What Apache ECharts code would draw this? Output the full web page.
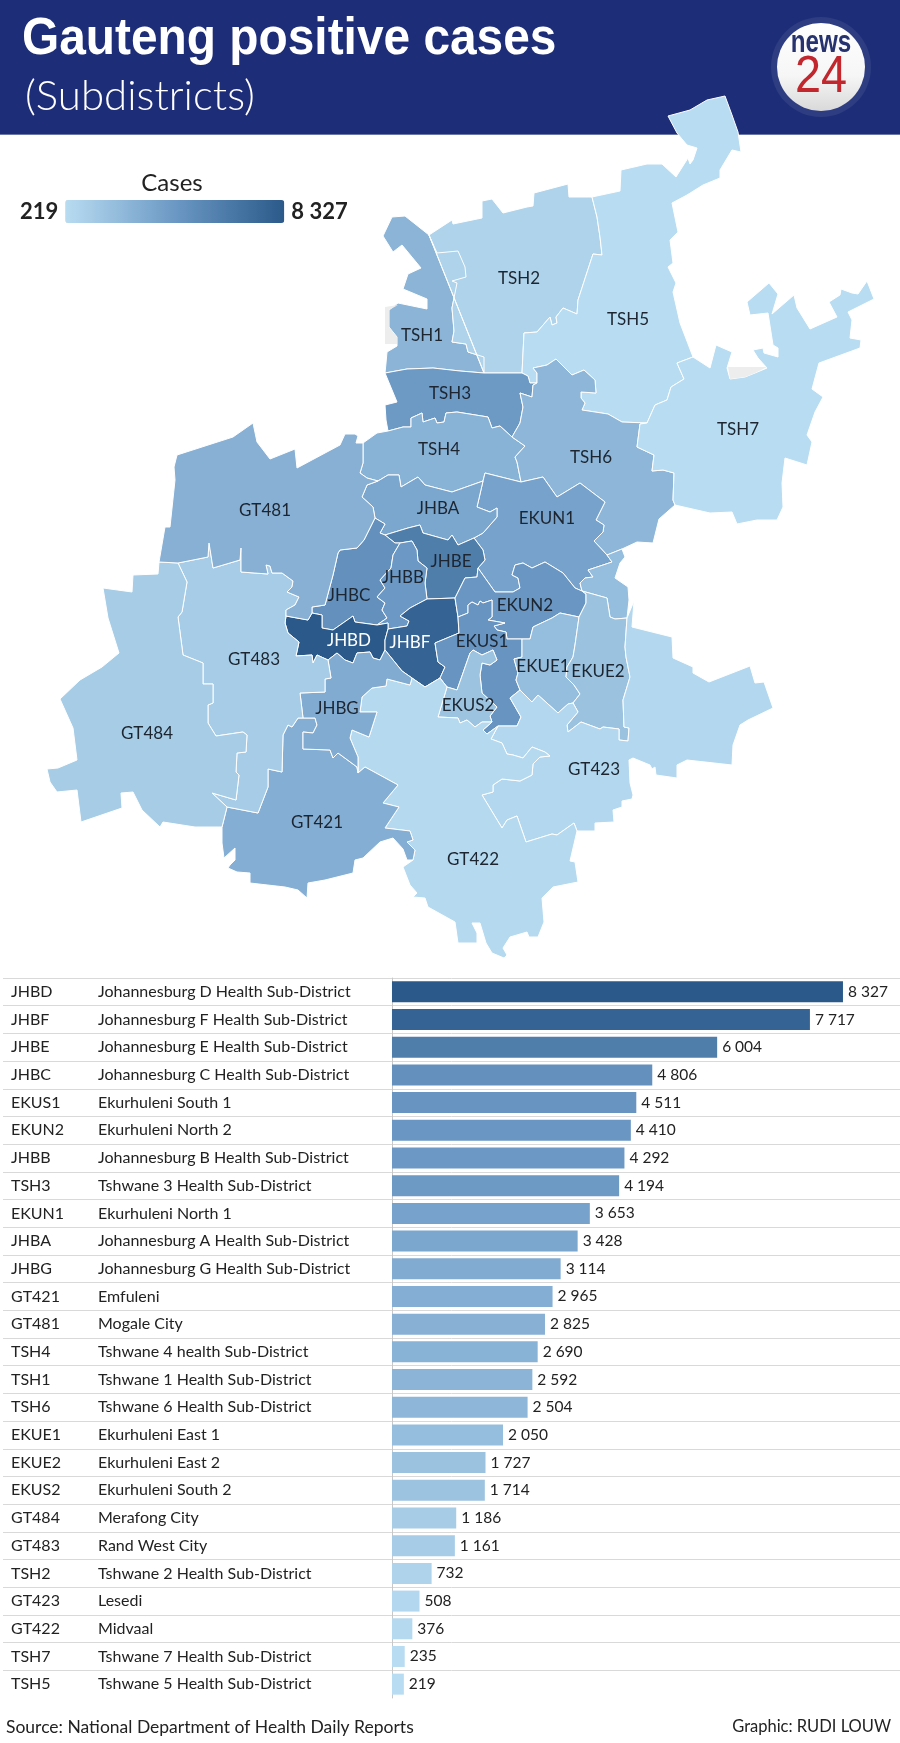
<!DOCTYPE html>
<html>
<head>
<meta charset="utf-8">
<title>Gauteng positive cases</title>
<script src="https://cdn.jsdelivr.net/npm/echarts@6/dist/echarts.min.js"></script>
<style>
  html, body { margin: 0; padding: 0; background: #fff; }
  #chart { width: 900px; height: 1743px; }
</style>
</head>
<body>
<div id="chart"></div>
<script>
const districtCodes = ['JHBD', 'JHBF', 'JHBE', 'JHBC', 'EKUS1', 'EKUN2', 'JHBB', 'TSH3', 'EKUN1', 'JHBA', 'JHBG', 'GT421', 'GT481', 'TSH4', 'TSH1', 'TSH6', 'EKUE1', 'EKUE2', 'EKUS2', 'GT484', 'GT483', 'TSH2', 'GT423', 'GT422', 'TSH7', 'TSH5']
const districtNames = [
  'Johannesburg D Health Sub-District', 'Johannesburg F Health Sub-District', 'Johannesburg E Health Sub-District',
  'Johannesburg C Health Sub-District', 'Ekurhuleni South 1', 'Ekurhuleni North 2',
  'Johannesburg B Health Sub-District', 'Tshwane 3 Health Sub-District', 'Ekurhuleni North 1',
  'Johannesburg A Health Sub-District', 'Johannesburg G Health Sub-District', 'Emfuleni',
  'Mogale City', 'Tshwane 4 health Sub-District', 'Tshwane 1 Health Sub-District',
  'Tshwane 6 Health Sub-District', 'Ekurhuleni East 1', 'Ekurhuleni East 2',
  'Ekurhuleni South 2', 'Merafong City', 'Rand West City',
  'Tshwane 2 Health Sub-District', 'Lesedi', 'Midvaal', 'Tshwane 7 Health Sub-District', 'Tshwane 5 Health Sub-District'
]
const caseCounts = [8327, 7717, 6004, 4806, 4511, 4410, 4292, 4194, 3653, 3428, 3114, 2965, 2825, 2690, 2592, 2504, 2050, 1727, 1714, 1186, 1161, 732, 508, 376, 235, 219]
const colorStops = ['#b8dcf1', '#6b98c4', '#2b5a8a']

// boundaries, each shared border only once
const borders = {
  tsh1_out: '429,235 405,216 392,217 383,236 393,252 402,245 421,268 408,274 403,289 427,299 427,309 398,303 389,310 389,327 397,337 397,346 387,352 386,363 385,373',
  tsh1_tsh3: '385,373 407,369 433,368 460,371 484,373',
  tsh1_tsh2: '484,373 484,357 468,352 466,344 452,342 454,331 452,308 457,283 452,281 466,277 465,267 458,251 437,253 429,235',
  tsh2_top: '429,235 452,220 453,224 482,218 482,201 492,199 503,213 527,207 533,206 534,193 568,184 569,197 592,197',
  tsh2_tsh5: '592,197 597,217 600,237 602,255 593,254 578,300 577,314 563,308 556,317 557,323 552,325 550,317 537,332 524,333 522,373',
  tsh2_tsh3: '522,373 484,373',
  tsh5_out: '592,197 620,191 621,170 647,164 662,164 676,177 688,158 690,164 693,160 697,148 687,145 677,133 668,116 690,110 707,100 725,96 732,115 738,132 741,152 732,150 720,170 720,178 703,185 687,195 672,203 678,232 670,240 673,263 668,267 676,283 673,292 680,323 693,357',
  tsh5_tsh7: '693,357 677,363 684,379 671,387 667,400 655,405 647,423',
  tsh5_tsh6: '647,423 622,422 608,414 582,410 585,403 581,398 581,392 596,393 595,380 584,370 572,375 556,359 547,365 533,368 537,373 537,383',
  tsh5_tsh3: '537,383 530,383 528,376 522,373',
  tsh3_left: '385,373 397,402 385,405 386,420 388,431',
  tsh3_tsh4: '388,431 403,427 411,427 411,418 422,413 423,422 435,418 437,423 444,422 446,413 457,412 488,417 492,428 500,426 512,437',
  tsh3_tsh6: '537,383 533,385 532,397 520,393 523,407 520,423 512,437',
  tsh4_left: '388,431 377,433 363,443',
  tsh4_gt481: '363,443 363,463 360,473 367,478 378,481',
  tsh4_jhba: '378,481 388,475 399,475 401,487 418,477 425,485 452,492 483,481',
  tsh4_short: '483,481 485,473',
  ekun1_tsh4: '485,473 521,482',
  tsh4_tsh6: '512,437 525,446 515,457 517,462 521,482',
  ekun1_tsh6: '521,482 543,477 557,497 580,483 605,502 596,520 604,525 603,532 594,541 607,555',
  tsh6_tsh7: '647,423 640,424 637,447 654,455 652,471 663,470 674,473 673,500 675,505',
  tsh6_out: '675,505 659,519 653,543 637,542 622,549',
  tsh6_lobe: '622,549 607,555',
  ekun1_lobe: '607,555 612,562 588,570 593,577 585,578 580,583 582,591',
  lobe_ekue2: '582,591 607,598 610,617 615,619 627,618',
  lobe_out: '622,549 625,557 620,563 615,578 628,587 629,600 627,618',
  tsh7_out: '693,357 710,368 716,345 732,352 727,368 730,379 745,377 755,373 767,368 758,358 753,350 763,348 764,353 778,357 778,348 773,345 768,313 750,315 747,302 769,283 778,294 772,314 794,295 797,308 810,329 837,317 829,302 840,295 841,289 852,293 858,294 867,281 874,299 848,312 852,320 850,338 861,340 860,348 819,363 812,389 823,397 815,412 807,435 812,442 807,465 785,458 782,483 783,507 777,520 757,520 737,524 732,512 710,513 675,505',
  ekun1_ekun2: '582,591 575,588 563,573 545,562 532,568 523,563 515,565 512,575 518,578 520,588 513,592 495,592 478,568',
  ekun2_ekue2: '582,591 586,594 586,603 579,617',
  ekun2_ekue1: '522,639 530,639 533,627 552,618 560,613 579,617',
  ekun2_ekus1: '458,617 468,613 468,605 472,602 478,605 480,601 483,603 492,600 492,617 488,620 505,623 494,626 497,630 506,632 507,639 522,639',
  ekue1_ekue2: '579,617 575,645 573,657 567,667 566,677 574,685 580,694 573,703',
  ekue1_gt423: '520,690 532,702 538,695 558,713 568,704 573,703',
  ekue2_gt423: '573,703 578,712 567,725 568,732 581,722 600,729 603,727 619,729 619,740 628,741 629,728 624,727 623,700 630,677 626,657 625,647 627,618',
  ekus1_ekue1: '522,639 522,657 514,659 518,673 516,680 520,690',
  ekus1_gt423: '498,726 517,726 521,717 510,698 520,690',
  ekus1_gt422: '498,726 487,734 483,730 492,722',
  ekus1_ekus2: '447,687 457,690 463,673 470,653 473,650 482,655 493,650 497,660 490,665 482,663 480,675 482,693 497,707 490,716 492,722',
  ekus2_gt422: '447,687 438,717 458,718 460,723 467,720 475,727 482,722 492,722',
  ekus1_gt422b: '440,678 447,687',
  jhbf_ekus1: '458,617 459,633 435,643 438,662 445,667 440,678',
  jhbf_ekun2: '455,598 458,617',
  jhbf_gt422: '412,678 425,687 440,678',
  jhbf_jhbg: '385,650 402,671 412,678',
  jhbd_jhbf: '388,629 385,640 385,650',
  jhbd_jhbb: '388,629 388,623 377,625',
  jhbb_jhbf: '427,599 410,608 400,616 409,621 407,626 388,629',
  jhbe_jhbf: '427,599 455,598',
  jhbe_ekun2: '478,568 477,577 465,578 455,598',
  jhbe_ekun1: '474,538 483,550 485,560 478,568',
  jhba_ekun1: '474,538 483,533 490,525 497,517 497,508 490,512 477,507 483,481',
  jhba_jhbe: '385,535 408,528 420,525 423,533 448,540 452,535 458,545 474,538',
  jhba_jhbc: '375,518 385,524 380,533 385,535',
  jhba_gt481: '378,481 367,485 362,497 373,507 375,518',
  jhbc_gt481: '312,613 312,607 325,605 333,575 338,553 340,550 357,548 364,540 375,518',
  jhbc_jhbe: '385,535 395,543 400,543',
  jhbb_jhbe: '400,543 412,541 417,550 418,561 427,568 425,583 427,599',
  jhbc_jhbb: '400,543 393,555 391,568 380,580 385,588 377,597 385,603 382,610 387,618 377,625',
  jhbc_jhbd: '312,613 322,615 322,628 333,630 353,616 355,622 377,625',
  gt481_jhbd: '286,616 308,620 312,613',
  jhbd_jhbg: '328,660 337,653 345,660 353,663 357,653 370,652 373,658 380,660 385,650',
  jhbd_gt483: '328,660 317,655 313,663 312,655 296,656 299,642 288,633 285,623 286,616',
  jhbg_gt483: '328,660 331,678 325,679 325,692 300,693 303,718',
  jhbg_gt421: '303,718 315,718 317,725 313,733 303,732 303,749 330,750 333,758 338,753 357,767 358,773',
  jhbg_gt422: '358,773 358,757 350,738 352,730 369,737 377,712 360,712 362,697 372,688 386,686 387,679 410,685 412,678',
  gt421_gt422: '358,773 365,767 398,785 383,803 399,807 385,828 410,831 413,840 407,842 415,850 413,860',
  gt421_out: '413,860 407,860 403,849 393,838 380,842 363,858 355,860 353,873 325,880 308,883 307,898 298,890 285,887 250,883 250,873 237,872 228,868 230,865 235,860 235,848 224,858 222,843 222,827',
  gt484_gt421: '222,827 227,807',
  gt483_gt421: '227,807 258,813 268,787 268,769 282,772 283,735 288,725 292,727 298,718 303,718',
  gt484_gt483: '178,563 187,582 182,612 178,617 183,655 203,663 203,684 213,684 213,703 208,705 208,723 216,736 243,732 247,735 246,752 237,753 236,772 239,775 236,800 212,793 227,807',
  gt481_gt484: '159,562 178,563',
  gt481_gt483: '178,563 208,557 209,543 213,568 240,560 241,548 241,572 268,574 266,565 270,566 272,573 282,573 293,581 292,587 287,592 299,597 295,605 286,610 286,616',
  gt481_out: '159,562 165,527 170,527 175,480 174,467 177,455 233,437 253,423 257,442 270,459 295,449 297,468 340,445 345,434 355,434 358,436 356,443 363,443',
  gt484_out: '159,562 158,574 133,575 132,592 103,588 108,618 119,653 102,667 80,680 60,699 73,728 77,760 58,768 47,769 50,782 57,792 77,790 81,822 122,808 121,793 133,792 142,810 160,827 163,822 195,827 222,827',
  gt422_out: '413,860 403,867 410,885 417,893 413,897 425,898 428,907 455,922 458,943 477,943 477,933 472,923 480,923 486,943 492,953 504,958 507,955 503,948 510,937 527,932 529,937 538,937 544,922 542,898 553,887 578,882 575,862 570,861 577,831',
  gt422_gt423: '577,831 574,823 557,835 552,834 526,842 517,816 507,820 502,828 482,795 493,792 493,785 502,779 520,781 532,775 533,764 540,757 550,756 545,752 532,747 523,758 513,755 507,754 502,743 491,739 498,726',
  gt423_out: '627,618 634,601 632,627 672,637 673,658 693,667 693,673 709,682 750,666 755,683 764,682 773,708 748,720 740,725 733,745 732,765 687,760 677,765 677,778 656,775 655,767 652,769 650,765 633,758 629,760 630,783 633,795 632,799 622,801 622,807 613,810 614,822 595,823 595,831 577,831',
  blank_a: '728,367 767,367 767,368 755,373 745,377 730,379 728,367',
  blank_b: '385,307 398,305 389,310 389,327 397,337 397,344 385,344 385,307'
}

// each region is one or more rings of borders, '-' walks a border backwards
const regionRings = {
  TSH1: [['tsh1_out', 'tsh1_tsh3', 'tsh1_tsh2']],
  TSH2: [['tsh2_top', 'tsh2_tsh5', 'tsh2_tsh3', '-tsh1_tsh2']],
  TSH5: [['tsh5_out', 'tsh5_tsh7', 'tsh5_tsh6', 'tsh5_tsh3', '-tsh2_tsh5']],
  TSH3: [['-tsh1_tsh3', 'tsh3_left', 'tsh3_tsh4', '-tsh3_tsh6', 'tsh5_tsh3', 'tsh2_tsh3']],
  TSH4: [['-tsh3_tsh4', 'tsh4_left', 'tsh4_gt481', 'tsh4_jhba', 'tsh4_short', 'ekun1_tsh4', '-tsh4_tsh6']],
  TSH6: [['-tsh5_tsh6', 'tsh6_tsh7', 'tsh6_out', 'tsh6_lobe', '-ekun1_tsh6', '-tsh4_tsh6', '-tsh3_tsh6']],
  TSH7: [['tsh7_out', '-tsh6_tsh7', '-tsh5_tsh7']],
  EKUN1: [['ekun1_tsh4', 'ekun1_tsh6', 'ekun1_lobe', 'ekun1_ekun2', '-jhbe_ekun1', 'jhba_ekun1', 'tsh4_short']],
  JHBA: [['-tsh4_jhba', 'jhba_gt481', 'jhba_jhbc', 'jhba_jhbe', 'jhba_ekun1']],
  JHBE: [['-jhba_jhbe', 'jhbc_jhbe', 'jhbb_jhbe', 'jhbe_jhbf', '-jhbe_ekun2', '-jhbe_ekun1']],
  JHBC: [['jhbc_gt481', 'jhba_jhbc', 'jhbc_jhbe', 'jhbc_jhbb', '-jhbc_jhbd']],
  JHBB: [['jhbb_jhbe', 'jhbb_jhbf', 'jhbd_jhbb', '-jhbc_jhbb']],
  JHBD: [['gt481_jhbd', 'jhbc_jhbd', '-jhbd_jhbb', 'jhbd_jhbf', '-jhbd_jhbg', 'jhbd_gt483']],
  JHBF: [['-jhbe_jhbf', 'jhbb_jhbf', 'jhbd_jhbf', 'jhbf_jhbg', 'jhbf_gt422', '-jhbf_ekus1', '-jhbf_ekun2']],
  EKUN2: [['-ekun1_ekun2', 'ekun2_ekue2', '-ekun2_ekue1', '-ekun2_ekus1', '-jhbf_ekun2', '-jhbe_ekun2']],
  EKUS1: [['ekun2_ekus1', 'ekus1_ekue1', '-ekus1_gt423', 'ekus1_gt422', '-ekus1_ekus2', '-ekus1_gt422b', '-jhbf_ekus1']],
  EKUS2: [['ekus1_ekus2', '-ekus2_gt422']],
  EKUE1: [['ekun2_ekue1', 'ekue1_ekue2', '-ekue1_gt423', '-ekus1_ekue1'], ['tsh6_lobe', 'ekun1_lobe', 'lobe_ekue2', '-lobe_out']],
  EKUE2: [['-ekun2_ekue2', 'lobe_ekue2', '-ekue2_gt423', '-ekue1_ekue2']],
  GT423: [['ekus1_gt423', 'ekue1_gt423', 'ekue2_gt423', 'gt423_out', 'gt422_gt423']],
  GT422: [['jhbf_gt422', 'ekus1_gt422b', 'ekus2_gt422', '-ekus1_gt422', '-gt422_gt423', '-gt422_out', '-gt421_gt422', 'jhbg_gt422']],
  GT421: [['gt421_gt422', 'gt421_out', 'gt484_gt421', 'gt483_gt421', 'jhbg_gt421']],
  JHBG: [['-jhbf_jhbg', '-jhbd_jhbg', 'jhbg_gt483', 'jhbg_gt421', 'jhbg_gt422']],
  GT483: [['gt481_gt483', '-jhbd_gt483', 'jhbg_gt483', '-gt483_gt421', '-gt484_gt483']],
  GT484: [['gt481_gt484', 'gt484_gt483', '-gt484_gt421', '-gt484_out']],
  GT481: [['gt481_out', 'tsh4_gt481', 'jhba_gt481', '-jhbc_gt481', '-gt481_jhbd', '-gt481_gt483', '-gt481_gt484']],
  blank_a: [['blank_a']],
  blank_b: [['blank_b']]
}

const labelSpots = {
  TSH1: [422, 336], TSH2: [519, 279], TSH5: [628, 320], TSH3: [450, 394], TSH4: [439, 450], TSH6: [591, 458], TSH7: [738, 430],
  GT481: [265, 511], GT483: [254, 660], GT484: [147, 734], GT421: [317, 823], GT423: [594, 770], GT422: [473, 860],
  JHBG: [337, 709], JHBD: [349, 641], JHBC: [349, 596], JHBB: [403, 578], JHBA: [438, 509], JHBE: [451, 562], JHBF: [410, 643],
  EKUN1: [547, 519], EKUN2: [525, 606], EKUS1: [482, 642], EKUS2: [468, 706], EKUE1: [543, 667], EKUE2: [598, 672]
}

const textFont = 'Lato, "Liberation Sans", sans-serif'
const headFont = '"Liberation Sans", sans-serif'

function readBorder (key) {
  const reverse = key[0] === '-'
  const points = borders[reverse ? key.slice(1) : key].split(' ').map(function (pair) {
    const xy = pair.split(',')
    return [Number(xy[0]), -Number(xy[1])]
  })
  return reverse ? points.reverse() : points
}

function buildRing (keys) {
  let ring = []
  keys.forEach(function (key) {
    ring = ring.concat(readBorder(key))
  })
  ring.push(ring[0])
  return ring
}

const gautengGeo = {
  type: 'FeatureCollection',
  features: Object.keys(regionRings).map(function (name) {
    const spot = labelSpots[name]
    return {
      type: 'Feature',
      properties: { name: name, cp: spot ? [spot[0], -spot[1]] : undefined },
      geometry: {
        type: 'MultiPolygon',
        coordinates: regionRings[name].map(function (keys) { return [buildRing(keys)] })
      }
    }
  })
}

// spaces in thousands, as in the picture
function withSpace (value) {
  return String(value).replace(/\B(?=(\d{3})+$)/g, ' ')
}

const mapData = districtCodes.map(function (code, i) {
  const dark = code === 'JHBD' || code === 'JHBF'
  return { name: code, value: caseCounts[i], label: { color: dark ? '#fff' : '#1c2530' } }
})
mapData.push({ name: 'blank_a', label: { show: false }, itemStyle: { borderWidth: 0 } })
mapData.push({ name: 'blank_b', label: { show: false }, itemStyle: { borderWidth: 0 } })

echarts.registerMap('gauteng', gautengGeo)

const chart = echarts.init(document.getElementById('chart'))

chart.setOption({
  animation: false,
  backgroundColor: '#fff',
  title: [
    {
      text: 'Cases',
      left: 172,
      top: 171,
      padding: 0,
      textAlign: 'center',
      textStyle: { fontFamily: textFont, fontSize: 24, fontWeight: 'normal', color: '#222' }
    },
    {
      text: 'Source: National Department of Health Daily Reports',
      left: 6,
      top: 1718,
      padding: 0,
      textStyle: { fontFamily: textFont, fontSize: 17.5, fontWeight: 'normal', color: '#222' }
    },
    {
      text: 'Graphic: RUDI LOUW',
      right: 9,
      top: 1718,
      padding: 0,
      textStyle: { fontFamily: textFont, fontSize: 16.5, fontWeight: 'normal', color: '#222' }
    }
  ],
  graphic: [
    { type: 'rect', z: 0, shape: { x: 0, y: 0, width: 900, height: 134 }, style: { fill: '#1e2d78' } },
    { type: 'rect', z: 0, shape: { x: 0, y: 134, width: 900, height: 1 }, style: { fill: '#6a76a8' } },
    {
      type: 'text',
      z: 1,
      x: 22,
      y: 40,
      scaleX: 0.92,
      style: { text: 'Gauteng positive cases', verticalAlign: 'middle', fill: '#fff', font: 'bold 52px ' + headFont }
    },
    {
      type: 'text',
      z: 1,
      x: 25,
      y: 96,
      style: { text: '(Subdistricts)', verticalAlign: 'middle', fill: '#fff', font: '300 42px Lato' }
    },
    { type: 'circle', z: 1, shape: { cx: 821, cy: 67, r: 50 }, style: { fill: '#2e3d82' } },
    {
      type: 'circle',
      z: 1,
      shape: { cx: 821, cy: 67, r: 44 },
      style: {
        fill: new echarts.graphic.LinearGradient(0, 0, 0, 1, [
          { offset: 0, color: '#ffffff' },
          { offset: 0.6, color: '#f6f6f6' },
          { offset: 1, color: '#d9d9d9' }
        ])
      }
    },
    {
      type: 'text',
      z: 2,
      x: 821,
      y: 43,
      scaleX: 0.78,
      style: { text: 'news', align: 'center', verticalAlign: 'middle', fill: '#26336f', font: 'bold 31px ' + headFont }
    },
    {
      type: 'text',
      z: 2,
      x: 821,
      y: 78,
      scaleX: 0.9,
      style: { text: '24', align: 'center', verticalAlign: 'middle', fill: '#c1272d', font: 'normal 52px ' + headFont }
    }
  ],
  visualMap: {
    type: 'continuous',
    min: 219,
    max: 8327,
    dimension: 0,
    seriesIndex: [0, 1],
    orient: 'horizontal',
    left: 20,
    top: 200,
    padding: 0,
    itemWidth: 23,
    itemHeight: 219,
    textGap: 7,
    text: [withSpace(8327), withSpace(219)],
    textStyle: { fontFamily: textFont, fontSize: 22, fontWeight: 'bold', color: '#222' },
    calculable: false,
    hoverLink: false,
    inRange: { color: colorStops }
  },
  grid: { left: 3, right: 0, top: 978, height: 720, outerBoundsMode: 'none' },
  xAxis: {
    type: 'value',
    min: -7182,
    max: 9380,
    show: false
  },
  yAxis: {
    type: 'category',
    inverse: true,
    data: districtCodes,
    axisTick: { show: false },
    axisLine: { show: true, onZero: true, lineStyle: { color: '#c8c8c8', width: 1 } },
    splitLine: { show: true, showMaxLine: false, lineStyle: { color: '#d9d9d9', width: 1 } },
    axisLabel: {
      inside: true,
      margin: 8,
      align: 'left',
      formatter: function (value, index) {
        return '{code|' + value + '}{name|' + districtNames[index] + '}'
      },
      rich: {
        code: { width: 87, align: 'left', fontFamily: textFont, fontSize: 16, color: '#222' },
        name: { align: 'left', fontFamily: textFont, fontSize: 16, color: '#222' }
      }
    }
  },
  series: [
    {
      type: 'map',
      map: 'gauteng',
      aspectScale: 1,
      left: 47,
      top: 96,
      width: 827,
      height: 862,
      roam: false,
      silent: true,
      selectedMode: false,
      z: 3,
      itemStyle: { areaColor: '#ededed', borderColor: '#fff', borderWidth: 1 },
      label: { show: true, fontFamily: textFont, fontSize: 17, color: '#1c2530' },
      data: mapData
    },
    {
      type: 'bar',
      data: caseCounts,
      barWidth: 21,
      silent: true,
      z: 3,
      label: {
        show: true,
        position: 'right',
        distance: 5,
        fontFamily: textFont,
        fontSize: 15.5,
        color: '#222',
        formatter: function (params) { return withSpace(params.value) }
      }
    }
  ]
})
</script>
</body>
</html>
